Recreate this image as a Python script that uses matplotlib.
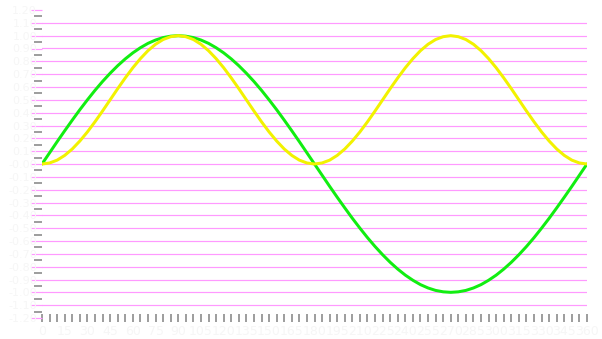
import matplotlib
matplotlib.use("Agg")
import matplotlib.pyplot as plt
import numpy as np
from matplotlib.ticker import MultipleLocator, FormatStrFormatter

angles = list(range(0, 361, 5))

sine_q = [0.000, 0.087, 0.174, 0.259, 0.342, 0.423, 0.500, 0.574, 0.643, 0.707,
          0.766, 0.819, 0.866, 0.906, 0.940, 0.966, 0.985, 0.996, 1.000]
green_vals = (sine_q + sine_q[-2::-1]
              + [-v for v in sine_q[1:]] + [-v for v in sine_q[-2::-1]])

sq_q = [0.000, 0.008, 0.030, 0.067, 0.117, 0.179, 0.250, 0.329, 0.413, 0.500,
        0.587, 0.671, 0.750, 0.821, 0.883, 0.933, 0.970, 0.992, 1.000]
yellow_vals = sq_q + sq_q[-2::-1] + sq_q[1:] + sq_q[-2::-1]

grid_levels = [round(-1.1 + 0.1 * i, 2) for i in range(23)]

W, H = 602, 339
fig = plt.figure(figsize=(W / 100, H / 100), dpi=100)
left, right, top, bottom = 42, 587, 10, 318
ax = fig.add_axes([left / W, 1 - bottom / H, (right - left) / W, (bottom - top) / H])

px = 72 / 100  # points per pixel
pink = "#ff99ff"
grey = "#808080"
faint = "#f6f6f6"

ax.set_xlim(0, 360)
ax.set_ylim(-1.2, 1.2)
for s in ax.spines.values():
    s.set_visible(False)

for lv in grid_levels:
    ax.axhline(lv, color=pink, lw=1.2 * px, zorder=1)

ax.plot(angles, green_vals, color="#11ee11", lw=3 * px, zorder=3,
        solid_capstyle="round", solid_joinstyle="round")
ax.plot(angles, yellow_vals, color="#f2f200", lw=3 * px, zorder=4,
        solid_capstyle="round", solid_joinstyle="round")

ax.yaxis.set_major_locator(MultipleLocator(0.1))
ax.set_yticks(np.arange(-1.15, 1.2, 0.1), minor=True)
ax.yaxis.set_major_formatter(FormatStrFormatter("%.2f"))
ax.tick_params(axis="y", which="major", direction="out", length=11 * px,
               width=1.2 * px, color=pink, labelcolor=faint, labelsize=8,
               pad=-6 * px)
ax.tick_params(axis="y", which="minor", direction="out", length=8 * px,
               width=1.5 * px, color=grey)

ax.xaxis.set_major_locator(MultipleLocator(15))
ax.xaxis.set_minor_locator(MultipleLocator(5))
ax.tick_params(axis="x", which="both", direction="inout", length=8 * px,
               width=1.5 * px, color=grey)
ax.tick_params(axis="x", which="major", labelcolor=faint, labelsize=9, pad=2)

fig.savefig("out.png", dpi=100, facecolor="white")
